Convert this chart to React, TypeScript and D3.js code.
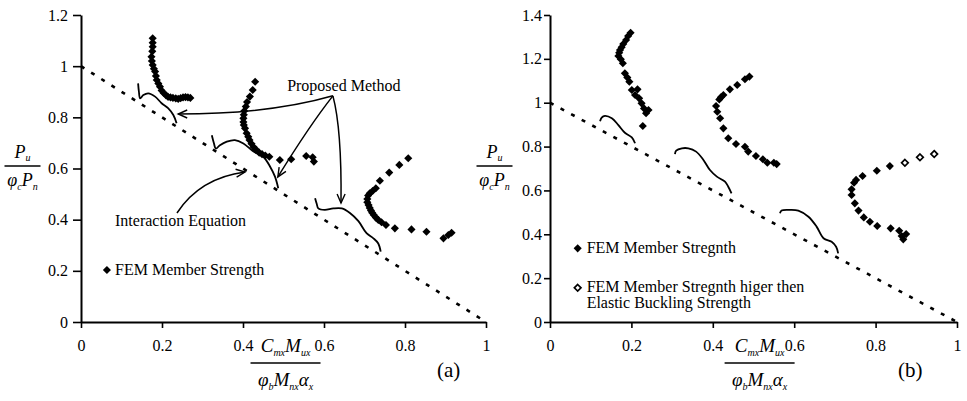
import { useEffect, useRef } from "react";
import * as d3 from "d3";

type Pt = [number, number];

// ticks
const xTicks = [0, 0.2, 0.4, 0.6, 0.8, 1];
const yTicksA = [0, 0.2, 0.4, 0.6, 0.8, 1, 1.2];
const yTicksB = [0, 0.2, 0.4, 0.6, 0.8, 1, 1.2, 1.4];

// interaction equation (straight line)
const interaction: Pt[] = [[0, 1], [1, 0]];

// (a) FEM member strength
const femA1: Pt[] = [
  [0.177, 1.109], [0.177, 1.092], [0.177, 1.076], [0.176, 1.058], [0.174, 1.037], [0.175, 1.02],
  [0.177, 1.005], [0.18, 0.99], [0.183, 0.979], [0.185, 0.962], [0.187, 0.946], [0.191, 0.932],
  [0.195, 0.92], [0.199, 0.905], [0.204, 0.895], [0.21, 0.886], [0.215, 0.88], [0.221, 0.878],
  [0.227, 0.876], [0.234, 0.874], [0.24, 0.872], [0.246, 0.875], [0.252, 0.878], [0.258, 0.879],
  [0.264, 0.878], [0.27, 0.876],
];
const femA2: Pt[] = [
  [0.43, 0.939], [0.424, 0.907], [0.417, 0.881], [0.41, 0.86], [0.407, 0.842], [0.403, 0.825],
  [0.402, 0.81], [0.401, 0.796], [0.401, 0.782], [0.402, 0.77], [0.405, 0.757], [0.409, 0.738],
  [0.413, 0.724], [0.416, 0.711], [0.421, 0.697], [0.426, 0.684], [0.432, 0.674], [0.44, 0.662],
  [0.447, 0.656], [0.455, 0.651], [0.465, 0.646], [0.491, 0.633], [0.519, 0.636], [0.556, 0.649],
  [0.572, 0.644], [0.575, 0.627],
];
const femA3: Pt[] = [
  [0.808, 0.64], [0.786, 0.614], [0.761, 0.584], [0.738, 0.552], [0.728, 0.523], [0.72, 0.512],
  [0.713, 0.503], [0.709, 0.494], [0.707, 0.481], [0.707, 0.468], [0.71, 0.457], [0.713, 0.446],
  [0.716, 0.436], [0.719, 0.427], [0.723, 0.418], [0.728, 0.408], [0.734, 0.399], [0.742, 0.39],
  [0.753, 0.379], [0.775, 0.366], [0.816, 0.362], [0.853, 0.353], [0.895, 0.327], [0.915, 0.349],
  [0.907, 0.34],
];

// (a) proposed method curves
const propA1: Pt[] = [
  [0.141, 0.933], [0.143, 0.9], [0.146, 0.874], [0.154, 0.887], [0.166, 0.894], [0.183, 0.881],
  [0.199, 0.855], [0.215, 0.836], [0.228, 0.809], [0.236, 0.777],
];
const propA2: Pt[] = [
  [0.323, 0.73], [0.328, 0.7], [0.333, 0.678], [0.343, 0.691], [0.36, 0.705], [0.38, 0.711],
  [0.401, 0.698], [0.426, 0.666], [0.45, 0.646], [0.467, 0.607], [0.479, 0.568], [0.487, 0.523],
];
const propA3: Pt[] = [
  [0.578, 0.484], [0.582, 0.462], [0.586, 0.444], [0.602, 0.438], [0.623, 0.444], [0.644, 0.444],
  [0.664, 0.426], [0.685, 0.394], [0.705, 0.347], [0.722, 0.327], [0.734, 0.307], [0.74, 0.275],
];

// (b) FEM member strength
const femB1: Pt[] = [
  [0.198, 1.319], [0.192, 1.304], [0.187, 1.286], [0.18, 1.268], [0.176, 1.253], [0.172, 1.24],
  [0.17, 1.228], [0.168, 1.213], [0.174, 1.198], [0.179, 1.18], [0.184, 1.134], [0.19, 1.115],
  [0.195, 1.096], [0.201, 1.058], [0.215, 1.061], [0.209, 1.035], [0.219, 1.02], [0.225, 0.997],
  [0.231, 0.974], [0.242, 0.967], [0.236, 0.952], [0.228, 0.894],
];
const femB2: Pt[] = [
  [0.49, 1.119], [0.479, 1.107], [0.46, 1.081], [0.442, 1.061], [0.426, 1.035], [0.42, 1.025],
  [0.416, 1.015], [0.408, 0.985], [0.411, 0.959], [0.418, 0.929], [0.426, 0.883], [0.438, 0.838],
  [0.457, 0.812], [0.479, 0.799], [0.487, 0.777], [0.506, 0.757], [0.523, 0.742], [0.534, 0.726],
  [0.55, 0.726], [0.557, 0.72],
];
const femB3: Pt[] = [
  [0.835, 0.711], [0.803, 0.69], [0.768, 0.666], [0.752, 0.648], [0.747, 0.635], [0.741, 0.605],
  [0.741, 0.579], [0.749, 0.541], [0.758, 0.508], [0.771, 0.477], [0.786, 0.457], [0.804, 0.438],
  [0.837, 0.427], [0.858, 0.416], [0.875, 0.401], [0.864, 0.392], [0.868, 0.377],
];
// higher than elastic buckling strength (open markers)
const femB3Open: Pt[] = [[0.872, 0.726], [0.909, 0.751], [0.944, 0.766]];

// (b) proposed method curves
const propB1: Pt[] = [
  [0.123, 0.915], [0.127, 0.932], [0.135, 0.94], [0.152, 0.929], [0.168, 0.898], [0.184, 0.863],
  [0.201, 0.842], [0.209, 0.815],
];
const propB2: Pt[] = [
  [0.307, 0.766], [0.31, 0.781], [0.324, 0.792], [0.34, 0.792], [0.359, 0.777], [0.377, 0.739],
  [0.393, 0.693], [0.41, 0.663], [0.43, 0.64], [0.438, 0.617], [0.446, 0.587],
];
const propB3: Pt[] = [
  [0.565, 0.496], [0.569, 0.508], [0.586, 0.511], [0.61, 0.508], [0.635, 0.48], [0.655, 0.435],
  [0.672, 0.382], [0.692, 0.366], [0.703, 0.343], [0.708, 0.313],
];

// annotation arrows in panel (a): from, control, to
const arrowsA: [Pt, Pt, Pt][] = [
  [[0.622, 0.884], [0.467, 0.813], [0.24, 0.813]],
  [[0.622, 0.884], [0.565, 0.77], [0.486, 0.567]],
  [[0.622, 0.884], [0.644, 0.753], [0.642, 0.465]],
  [[0.237, 0.426], [0.294, 0.563], [0.405, 0.586]],
];

const font = "Liberation Serif, DejaVu Serif, Times New Roman, serif";

const App = () => {
  const svgRef = useRef<SVGSVGElement>(null);
  const width = 967;
  const height = 401;

  useEffect(() => {
    if (!svgRef.current) return;
    const svg = d3.select(svgRef.current);
    svg.selectAll("*").remove();

    // open V arrow head
    svg.append("defs").append("marker")
      .attr("id", "arrowHead")
      .attr("viewBox", "-11 -6 13 12")
      .attr("refX", 0)
      .attr("refY", 0)
      .attr("markerWidth", 13)
      .attr("markerHeight", 12)
      .attr("markerUnits", "userSpaceOnUse")
      .attr("orient", "auto")
      .append("path")
      .attr("d", "M-9,-4L0,0L-9,4")
      .attr("fill", "none")
      .attr("stroke", "#000")
      .attr("stroke-width", 1.4);

    const diamond = d3.symbol().type((d3 as any).symbolDiamond2 || d3.symbolDiamond).size(42);
    const openDiamond = d3.symbol().type((d3 as any).symbolDiamond2 || d3.symbolDiamond).size(28);

    const drawPanel = (o: {
      x: d3.ScaleLinear<number, number>;
      y: d3.ScaleLinear<number, number>;
      yTicks: number[];
      yTickSize: number;
      yPad: number;
      fem: Pt[][];
      open: Pt[][];
      proposed: Pt[][];
      yLabelX: number;
      xLabelAt: number;
      tag: string;
      tagAt: Pt;
    }) => {
      const { x, y } = o;
      const g = svg.append("g");

      // axes
      const yAxis = d3.axisLeft(y).tickValues(o.yTicks).tickFormat((d) => String(d))
        .tickSize(o.yTickSize).tickSizeOuter(0).tickPadding(o.yPad);
      const xAxis = d3.axisBottom(x).tickValues(xTicks).tickFormat((d) => String(d))
        .tickSize(6).tickSizeOuter(0).tickPadding(12);
      const ya = g.append("g").attr("transform", `translate(${x(0)},0)`).call(yAxis);
      const xa = g.append("g").attr("transform", `translate(0,${y(0)})`).call(xAxis);
      [ya, xa].forEach((a) => {
        a.attr("font-family", null).attr("font-size", null);
        a.selectAll("text").attr("fill", "#000").style("font-family", font).style("font-size", "16px");
        a.selectAll("line").attr("stroke", "#000").attr("stroke-width", 1.6);
        a.select(".domain").attr("stroke", "#000").attr("stroke-width", 2);
      });

      // interaction equation
      const line = d3.line<Pt>().x((d) => x(d[0])).y((d) => y(d[1]));
      g.append("path")
        .attr("d", line(interaction))
        .attr("fill", "none")
        .attr("stroke", "#000")
        .attr("stroke-width", 2.6)
        .attr("stroke-dasharray", "4,8");

      // proposed method
      const curve = d3.line<Pt>().x((d) => x(d[0])).y((d) => y(d[1])).curve(d3.curveCatmullRom.alpha(0.5));
      o.proposed.forEach((s) => {
        g.append("path")
          .attr("d", curve(s))
          .attr("fill", "none")
          .attr("stroke", "#000")
          .attr("stroke-width", 1.8);
      });

      // FEM points
      o.fem.forEach((s) => {
        g.append("g").selectAll("path").data(s).join("path")
          .attr("transform", (d) => `translate(${x(d[0])},${y(d[1])})`)
          .attr("d", diamond() as string)
          .attr("fill", "#000");
      });
      o.open.forEach((s) => {
        g.append("g").selectAll("path").data(s).join("path")
          .attr("transform", (d) => `translate(${x(d[0])},${y(d[1])})`)
          .attr("d", openDiamond() as string)
          .attr("fill", "#fff")
          .attr("stroke", "#000")
          .attr("stroke-width", 1.7);
      });

      // y label  Pu / phi_c Pn
      const lab = g.append("g").style("font-family", font).style("font-style", "italic").attr("fill", "#000");
      const yNum = lab.append("text").attr("x", o.yLabelX).attr("y", 158).attr("text-anchor", "middle").style("font-size", "18px");
      yNum.append("tspan").text("P");
      yNum.append("tspan").style("font-size", "10px").attr("dy", 3).text("u");
      lab.append("line")
        .attr("x1", o.yLabelX - 18).attr("x2", o.yLabelX + 18)
        .attr("y1", 166).attr("y2", 166)
        .attr("stroke", "#000").attr("stroke-width", 1.5);
      const yDen = lab.append("text").attr("x", o.yLabelX).attr("y", 186).attr("text-anchor", "middle").style("font-size", "18px");
      yDen.append("tspan").text("\u03c6");
      yDen.append("tspan").style("font-size", "10px").attr("dy", 4).text("c");
      yDen.append("tspan").attr("dy", -4).text("P");
      yDen.append("tspan").style("font-size", "10px").attr("dy", 4).text("n");

      // x label  Cmx Mux / phi_b Mnx alpha_x
      const cx = x(o.xLabelAt);
      const base = y(0);
      const xNum = lab.append("text").attr("x", cx).attr("y", base + 30).attr("text-anchor", "middle").style("font-size", "19px");
      xNum.append("tspan").text("C");
      xNum.append("tspan").style("font-size", "10px").attr("dy", 4).text("mx");
      xNum.append("tspan").attr("dy", -4).text("M");
      xNum.append("tspan").style("font-size", "10px").attr("dy", 4).text("ux");
      lab.append("line")
        .attr("x1", cx - 35).attr("x2", cx + 35)
        .attr("y1", base + 41).attr("y2", base + 41)
        .attr("stroke", "#000").attr("stroke-width", 1.5);
      const xDen = lab.append("text").attr("x", cx).attr("y", base + 64).attr("text-anchor", "middle").style("font-size", "19px");
      xDen.append("tspan").text("\u03c6");
      xDen.append("tspan").style("font-size", "10px").attr("dy", 4).text("b");
      xDen.append("tspan").attr("dy", -4).text("M");
      xDen.append("tspan").style("font-size", "10px").attr("dy", 4).text("nx");
      xDen.append("tspan").attr("dy", -4).text("\u03b1");
      xDen.append("tspan").style("font-size", "10px").attr("dy", 4).text("x");

      // panel tag
      g.append("text")
        .attr("x", x(o.tagAt[0])).attr("y", y(o.tagAt[1]))
        .style("font-family", font).style("font-size", "21px").attr("fill", "#000")
        .text(o.tag);

      return g;
    };

    // panel (a)
    const xA = d3.scaleLinear().domain([0, 1]).range([81, 486]);
    const yA = d3.scaleLinear().domain([0, 1.2]).range([322, 15]);
    const gA = drawPanel({
      x: xA, y: yA, yTicks: yTicksA, yTickSize: 8, yPad: 5,
      fem: [femA1, femA2, femA3], open: [], proposed: [propA1, propA2, propA3],
      yLabelX: 22.5, xLabelAt: 0.505, tag: "(a)", tagAt: [0.879, -0.215],
    });

    // annotations (a)
    arrowsA.forEach(([p0, c, p1]) => {
      const p = d3.path();
      p.moveTo(xA(p0[0]), yA(p0[1]));
      p.quadraticCurveTo(xA(c[0]), yA(c[1]), xA(p1[0]), yA(p1[1]));
      gA.append("path")
        .attr("d", p.toString())
        .attr("fill", "none")
        .attr("stroke", "#000")
        .attr("stroke-width", 1.5)
        .attr("marker-end", "url(#arrowHead)");
    });
    const txtA = gA.append("g").style("font-family", font).style("font-size", "16px").attr("fill", "#000");
    txtA.append("text").attr("x", xA(0.509)).attr("y", yA(0.903)).text("Proposed Method");
    txtA.append("text").attr("x", xA(0.084)).attr("y", yA(0.375)).text("Interaction Equation");
    gA.append("path")
      .attr("transform", `translate(${xA(0.064)},${yA(0.203)})`)
      .attr("d", diamond() as string)
      .attr("fill", "#000");
    txtA.append("text").attr("x", xA(0.084)).attr("y", yA(0.184)).text("FEM Member Strength");

    // panel (b)
    const xB = d3.scaleLinear().domain([0, 1]).range([550, 957]);
    const yB = d3.scaleLinear().domain([0, 1.4]).range([322, 15]);
    const gB = drawPanel({
      x: xB, y: yB, yTicks: yTicksB, yTickSize: 6, yPad: 2,
      fem: [femB1, femB2, femB3], open: [femB3Open], proposed: [propB1, propB2, propB3],
      yLabelX: 494.5, xLabelAt: 0.515, tag: "(b)", tagAt: [0.855, -0.251],
    });
    const txtB = gB.append("g").style("font-family", font).style("font-size", "16px").attr("fill", "#000");
    gB.append("path")
      .attr("transform", `translate(${xB(0.068)},${yB(0.336)})`)
      .attr("d", diamond() as string)
      .attr("fill", "#000");
    txtB.append("text").attr("x", xB(0.09)).attr("y", yB(0.315)).text("FEM Member Stregnth");
    gB.append("path")
      .attr("transform", `translate(${xB(0.068)},${yB(0.156)})`)
      .attr("d", openDiamond() as string)
      .attr("fill", "#fff")
      .attr("stroke", "#000")
      .attr("stroke-width", 1.7);
    txtB.append("text").attr("x", xB(0.09)).attr("y", yB(0.138)).text("FEM Member Stregnth higer then");
    txtB.append("text").attr("x", xB(0.09)).attr("y", yB(0.0625)).text("Elastic Buckling Strength");
  }, []);

  return (
    <svg
      ref={svgRef}
      width={width}
      height={height}
      viewBox={`0 0 ${width} ${height}`}
      style={{ position: "absolute", left: 0, top: 0, background: "#fff" }}
    />
  );
};

export default App;
